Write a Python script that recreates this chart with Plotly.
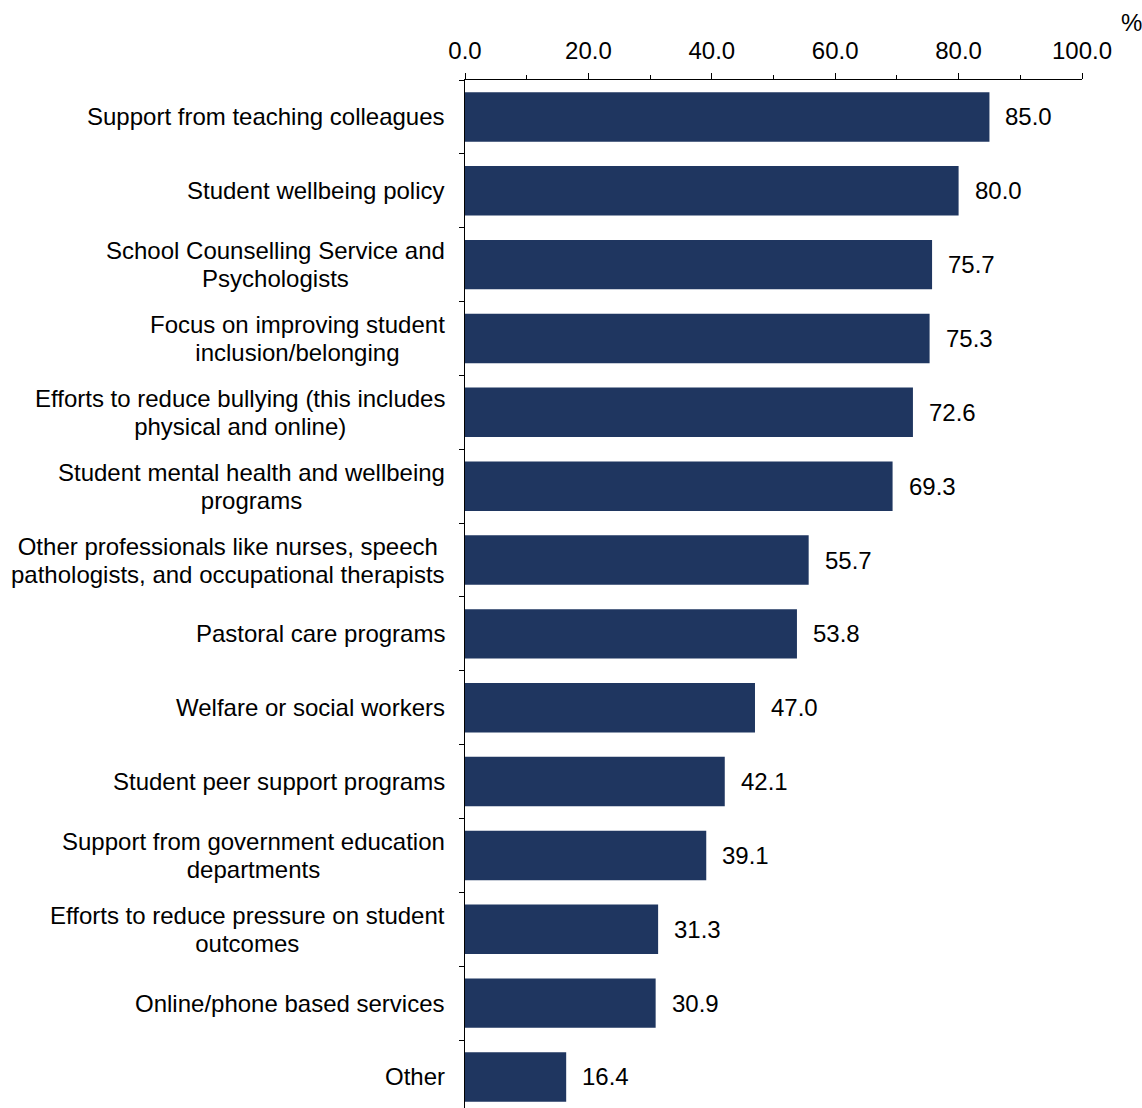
import plotly.graph_objects as go

categories = [
    "Support from teaching colleagues",
    "Student wellbeing policy",
    "School Counselling Service and<br>Psychologists",
    "Focus on improving student<br>inclusion/belonging",
    "Efforts to reduce bullying (this includes<br>physical and online)",
    "Student mental health and wellbeing<br>programs",
    "Other professionals like nurses, speech<br>pathologists, and occupational therapists",
    "Pastoral care programs",
    "Welfare or social workers",
    "Student peer support programs",
    "Support from government education<br>departments",
    "Efforts to reduce pressure on student<br>outcomes",
    "Online/phone based services",
    "Other",
]
values = [85.0, 80.0, 75.7, 75.3, 72.6, 69.3, 55.7, 53.8, 47.0, 42.1, 39.1, 31.3, 30.9, 16.4]
x_ticks = [0, 20, 40, 60, 80, 100]
x_minor = [10, 30, 50, 70, 90]

BAR = "#1f3660"
FONT = "Arial, Liberation Sans, sans-serif"
FS = 24
LINE_FS = 21.2  # controls line spacing (1.3 em) of the category labels

fig = go.Figure()
fig.add_trace(go.Bar(
    x=values, y=categories, orientation="h",
    marker=dict(color=BAR, line=dict(width=0)),
    width=0.67,
    hoverinfo="x+y",
))

for c, v in zip(categories, values):
    fig.add_annotation(x=v, y=c, text=f"{v:.1f}", showarrow=False,
                       xanchor="left", yanchor="middle", xshift=14,
                       font=dict(size=FS, color="#000000", family=FONT))
    label = "<br>".join(f'<span style="font-size:{FS}px">{ln}</span>' for ln in c.split("<br>"))
    fig.add_annotation(x=0, xref="paper", y=c, text=label, showarrow=False,
                       xanchor="right", yanchor="middle", xshift=-18, align="center",
                       font=dict(size=LINE_FS, color="#000000", family=FONT))

fig.add_annotation(x=1.0, xref="paper", y=1, yref="paper", text="%",
                   showarrow=False, xanchor="left", yanchor="bottom",
                   xshift=37, yshift=42,
                   font=dict(size=FS, color="#000000", family=FONT))

fig.update_layout(
    width=1142, height=1108,
    margin=dict(l=465, r=60, t=80, b=0),
    paper_bgcolor="white", plot_bgcolor="white",
    showlegend=False,
    font=dict(family=FONT, size=FS, color="#000000"),
    xaxis=dict(
        side="top", range=[0, 100], tickvals=x_ticks,
        tickformat=".1f", showgrid=False, zeroline=False,
        showline=True, linecolor="#000000", linewidth=1,
        ticks="outside", ticklen=6, tickcolor="#000000",
        minor=dict(tickvals=x_minor, ticks="outside", ticklen=4, tickcolor="#000000"),
        tickfont=dict(size=FS, family=FONT, color="#000000"),
        ticklabelstandoff=4,
    ),
    yaxis=dict(
        type="category", range=[13.42, -0.5], showgrid=False, zeroline=False,
        showline=True, linecolor="#000000", linewidth=1,
        ticks="outside", ticklen=5, tickcolor="#000000", tickson="boundaries",
        showticklabels=False,
    ),
)

fig.write_html("out.html")
